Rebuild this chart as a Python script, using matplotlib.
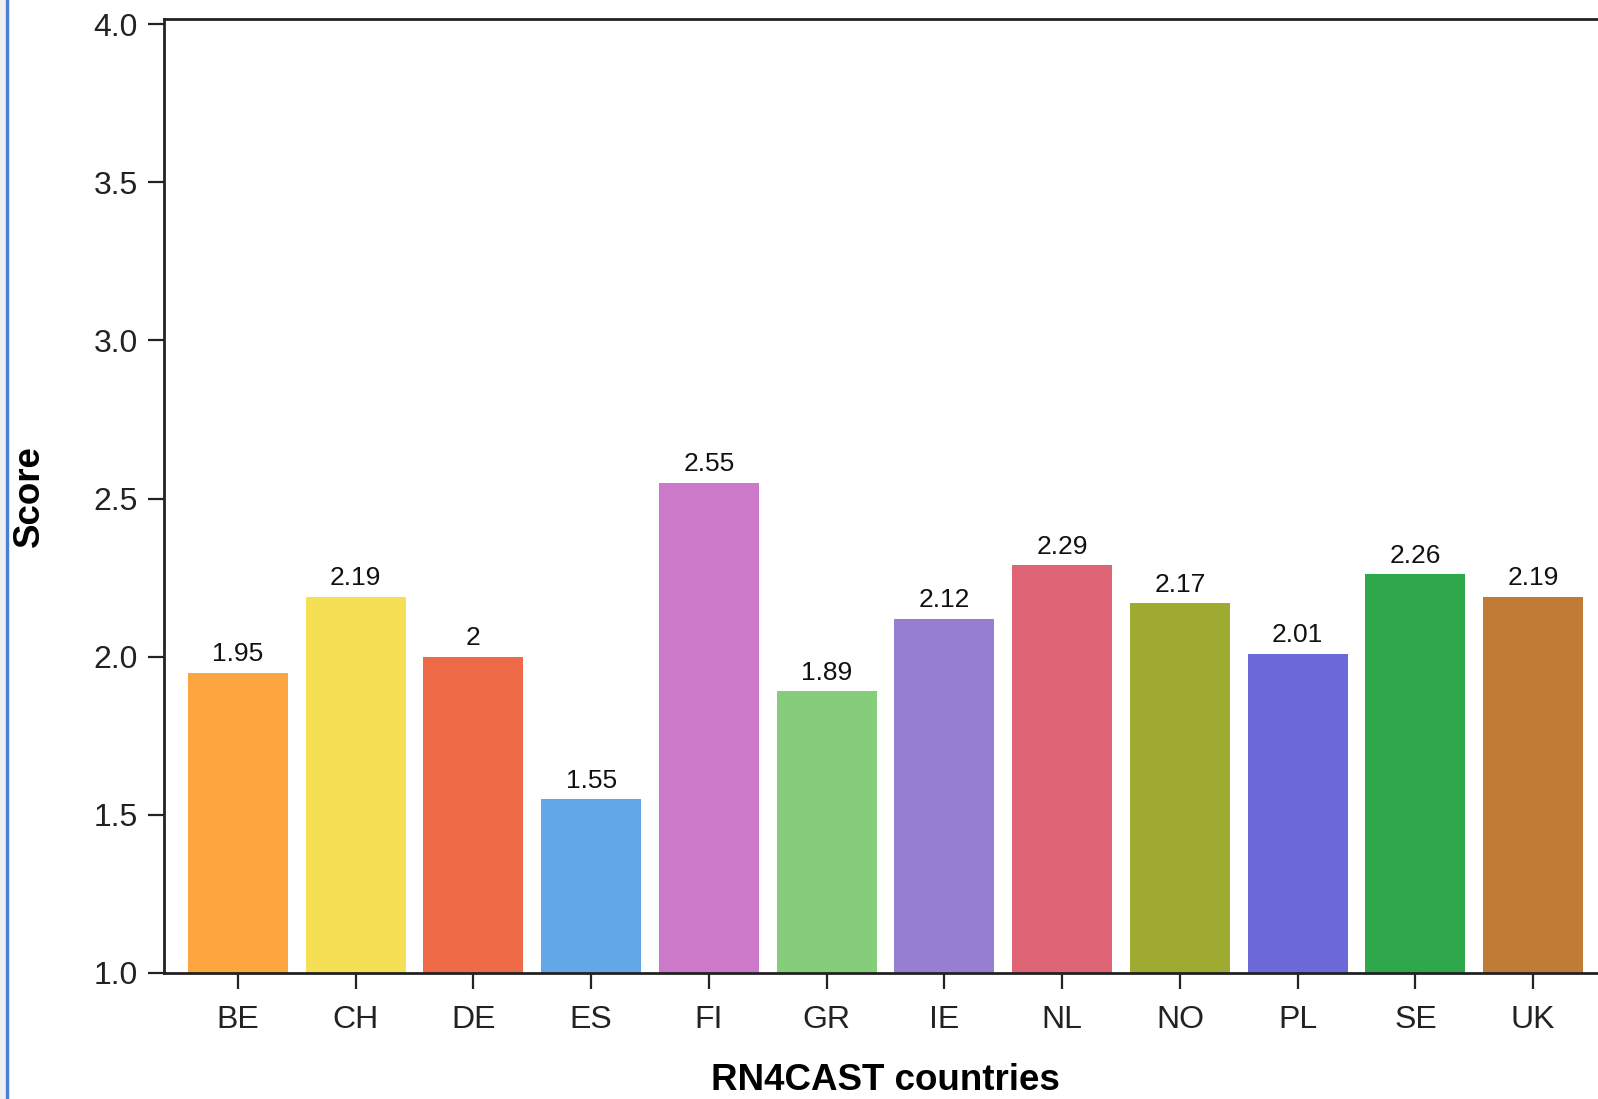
import matplotlib as mpl
import matplotlib.pyplot as plt
from matplotlib.patches import Rectangle

countries = ["BE", "CH", "DE", "ES", "FI", "GR", "IE", "NL", "NO", "PL", "SE", "UK"]
scores = [1.95, 2.19, 2, 1.55, 2.55, 1.89, 2.12, 2.29, 2.17, 2.01, 2.26, 2.19]
score_labels = ["1.95", "2.19", "2", "1.55", "2.55", "1.89", "2.12", "2.29", "2.17", "2.01", "2.26", "2.19"]
colors = ["#fda53e", "#f5df55", "#ef6b48", "#63a8e6", "#cc79c9", "#85cd7a",
          "#967ed1", "#df6576", "#9faa30", "#6b6ad8", "#2fa84c", "#c07c36"]
yticks = [1.0, 1.5, 2.0, 2.5, 3.0, 3.5, 4.0]

mpl.rcParams['font.family'] = ['Liberation Sans', 'DejaVu Sans']

W, H = 1598, 1099
fig = plt.figure(figsize=(W / 100, H / 100), dpi=100)

# page edge strip and blue border on the left
fig.patches.append(Rectangle((0, 0), 6 / W, 1, transform=fig.transFigure,
                             color="#f0f0f0", zorder=0))
fig.patches.append(Rectangle((6 / W, 0), 2.2 / W, 1, transform=fig.transFigure,
                             color="#4a7fd3", zorder=1))

left, right, top, bottom = 163.5, 1607.5, 19, 973
ax = fig.add_axes([left / W, 1 - bottom / H, (right - left) / W, (bottom - top) / H])

x = list(range(len(countries)))
ax.bar(x, scores, width=0.85, color=colors, zorder=2)
for xi, s, lab in zip(x, scores, score_labels):
    ax.annotate(lab, (xi, s), xytext=(0, 4.5), textcoords="offset points",
                ha="center", va="bottom", fontsize=19, color="#111111")

ax.set_xlim(-0.631, len(countries) - 1 + 0.631)
ax.set_ylim(1.0, 4.016)
ax.set_xticks(x)
ax.set_xticklabels(countries)
ax.set_yticks(yticks)
ax.set_yticklabels([f"{t:.1f}" for t in yticks])

for side in ["left", "bottom", "top", "right"]:
    ax.spines[side].set_linewidth(2)
    ax.spines[side].set_color("#222222")
ax.tick_params(axis="both", length=11.5, width=1.6, color="#222222",
               labelsize=23, labelcolor="#222222")
ax.tick_params(axis="y", pad=7)
ax.tick_params(axis="x", pad=11.5)

fig.text((left + right) / 2 / W, 1 - 1090 / H, "RN4CAST countries",
         ha="center", va="baseline", fontsize=26.5, fontweight="bold")
fig.text(29 / W, 1 - 496 / H, "Score", rotation=90, ha="center", va="center",
         fontsize=26.5, fontweight="bold")

fig.savefig("out.png", dpi=100)
